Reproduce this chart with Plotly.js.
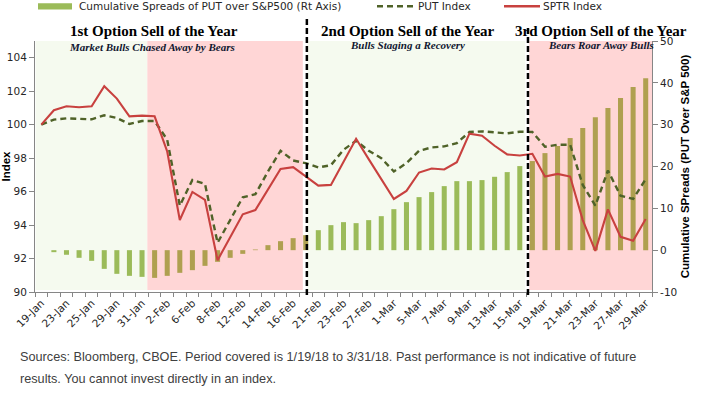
<!DOCTYPE html>
<html><head><meta charset="utf-8">
<script src="https://cdn.plot.ly/plotly-3.0.1.min.js"></script>
<style>html,body{margin:0;padding:0;background:#fff}#chart{width:702px;height:396px}</style>
</head><body><div id="chart"></div>
<script>
// ---------- DATA ----------
const dates = ["19-Jan","22-Jan","23-Jan","24-Jan","25-Jan","26-Jan","29-Jan","30-Jan","31-Jan",
  "1-Feb","2-Feb","5-Feb","6-Feb","7-Feb","8-Feb","9-Feb","12-Feb","13-Feb","14-Feb","15-Feb","16-Feb",
  "20-Feb","21-Feb","22-Feb","23-Feb","26-Feb","27-Feb","28-Feb",
  "1-Mar","2-Mar","5-Mar","6-Mar","7-Mar","8-Mar","9-Mar","12-Mar","13-Mar","14-Mar","15-Mar","16-Mar",
  "19-Mar","20-Mar","21-Mar","22-Mar","23-Mar","26-Mar","27-Mar","28-Mar","29-Mar"];
const tickDates = ["19-Jan","23-Jan","25-Jan","29-Jan","31-Jan","2-Feb","6-Feb","8-Feb","12-Feb","14-Feb",
  "16-Feb","21-Feb","23-Feb","27-Feb","1-Mar","5-Mar","7-Mar","9-Mar","13-Mar","15-Mar","19-Mar","21-Mar",
  "23-Mar","27-Mar","29-Mar"];
const sptrIndex = [100,100.86,101.1,101.04,101.1,102.3,101.56,100.5,100.54,
  100.5,98.4,94.3,95.98,95.5,91.9,93.26,94.64,94.9,96.1,97.35,97.46,
  96.9,96.36,96.4,97.76,99.16,97.94,96.74,
  95.56,96.04,97.14,97.38,97.32,97.76,99.46,99.34,98.74,98.22,98.16,98.26,
  96.9,97.06,96.9,94.3,92.46,94.94,93.3,93.06,94.36];
const putIndex = [100,100.3,100.38,100.34,100.32,100.56,100.4,100.04,100.22,
  100.22,99.1,95.16,96.7,96.46,92.94,94.3,95.66,95.84,97.2,98.44,97.86,
  97.7,97.44,97.58,98.5,99.04,98.44,98.0,
  97.2,97.7,98.44,98.64,98.7,98.9,99.56,99.6,99.54,99.48,99.58,99.56,
  98.68,98.8,98.8,96.4,95.16,97.26,95.76,95.56,96.74];
const cumSpreads = [0,-0.48,-1.1,-1.83,-2.55,-4.47,-5.66,-6.14,-6.38,
  -6.62,-6.14,-5.42,-4.78,-3.75,-2.79,-1.83,-0.88,0.16,1.2,2.15,2.87,
  3.59,4.78,5.98,6.7,6.46,7.18,8.13,
  9.8,11.48,12.68,13.88,15.31,16.5,16.5,16.75,17.54,18.66,20.1,21.3,
  23.2,24.9,26.8,29.2,31.8,34.0,36.4,39.0,41.1];
const leftTicks = [90,92,94,96,98,100,102,104];
const rightTickVals = [-10,0,10,20,30,40,50];
const rightTickText = ["-10","0","10","20","30","40","50"];
const periodTitles = ["1st Option Sell of the Year","2nd Option Sell of the Year","3rd Option Sell of the Year"];
const periodSubtitles = ["Market Bulls Chased Away by Bears","Bulls Staging a Recovery","Bears Roar Away Bulls"];
const legendNames = ["Cumulative Spreads of PUT over S&P500 (Rt Axis)","PUT Index","SPTR Index"];
const sourceLines = ["Sources: Bloomberg, CBOE. Period covered is 1/19/18 to 3/31/18. Past performance is not indicative of future",
  "results. You cannot invest directly in an index."];

// ---------- STYLE / LAYOUT ----------
const L=35, T=41, W=617, H=251;
const px = x => (x-L)/W;
const py = y => (T+H-y)/H;
const GREEN='#9BBB59', KHAKI='#AFA050';
const bearDays = i => (i>=9 && i<=21) || i>=39;
const barColors = cumSpreads.map((v,i)=> bearDays(i) ? KHAKI : GREEN);
const tickText = dates.map(d => tickDates.includes(d) ? d : '');

const traces = [
  {type:'bar', x:dates, y:cumSpreads, yaxis:'y', marker:{color:barColors}, width:0.4, showlegend:false, hoverinfo:'skip'},
  {type:'scatter', mode:'lines', x:dates, y:putIndex, yaxis:'y2', line:{color:'#4F6228', width:2.4, dash:'6px,4px'}, showlegend:false},
  {type:'scatter', mode:'lines', x:dates, y:sptrIndex, yaxis:'y2', line:{color:'#C8413F', width:2.1}, showlegend:false}
];

const tickFont = {family:'DejaVu Sans', size:10.5, color:'#262626'};
const axisTitleFont = {family:'Liberation Sans', size:11.5, color:'#000'};

const shapes = [
  {type:'rect', xref:'x', yref:'paper', x0:-0.45, x1:8.42, y0:0.008, y1:1, fillcolor:'#F5FAEF', line:{width:0}, layer:'below'},
  {type:'rect', xref:'x', yref:'paper', x0:8.42, x1:20.77, y0:0.008, y1:1, fillcolor:'#FFD6D6', line:{width:0}, layer:'below'},
  {type:'rect', xref:'x', yref:'paper', x0:21.14, x1:38.43, y0:0.008, y1:1, fillcolor:'#F5FAEF', line:{width:0}, layer:'below'},
  {type:'rect', xref:'x', yref:'paper', x0:38.75, x1:48.5, y0:0.008, y1:1, fillcolor:'#FFD6D6', line:{width:0}, layer:'below'},
  {type:'line', xref:'x', yref:'paper', x0:21.09, x1:21.09, y0:py(295), y1:py(18), line:{color:'#000', width:2.5, dash:'6px,3px'}},
  {type:'line', xref:'x', yref:'paper', x0:38.65, x1:38.65, y0:py(295), y1:py(25), line:{color:'#000', width:2.5, dash:'6px,3px'}},
  // legend symbols
  {type:'rect', xref:'paper', yref:'paper', x0:px(38), x1:px(72), y0:py(9.5), y1:py(3.3), fillcolor:GREEN, line:{width:0}},
  {type:'line', xref:'paper', yref:'paper', x0:px(377), x1:px(413), y0:py(6.3), y1:py(6.3), line:{color:'#4F6228', width:2.4, dash:'6px,4px'}},
  {type:'line', xref:'paper', yref:'paper', x0:px(504), x1:px(540), y0:py(6.3), y1:py(6.3), line:{color:'#C8413F', width:2.4}}
];

const titleX = [153.5, 408, 600.5];
const annotations = [];
periodTitles.forEach((t,i)=>annotations.push({xref:'paper', yref:'paper', x:px(titleX[i]), y:py(31), xanchor:'center', yanchor:'middle',
  text:'<b>'+t+'</b>', showarrow:false, borderpad:0, font:{family:'Liberation Serif', size:15, color:'#000'}}));
const subX = [151.5, 407, 600.5], subY=[47.5, 45, 45];
periodSubtitles.forEach((t,i)=>annotations.push({xref:'paper', yref:'paper', x:px(subX[i]), y:py(subY[i]), xanchor:'center', yanchor:'middle',
  text:'<b><i>'+t+'</i></b>', showarrow:false, borderpad:0, font:{family:'Liberation Serif', size:11, color:'#10162F'}}));
const legTextX = [77.5, 416.5, 541.5];
legendNames.forEach((t,i)=>annotations.push({xref:'paper', yref:'paper', x:px(legTextX[i]), y:py(6.5), xanchor:'left', yanchor:'middle',
  text:t, showarrow:false, borderpad:0, font:{family:'DejaVu Sans', size:10.5, color:'#262626'}}));
const srcY = [357, 379];
sourceLines.forEach((t,i)=>annotations.push({xref:'paper', yref:'paper', x:px(19), y:py(srcY[i]), xanchor:'left', yanchor:'middle',
  text:t, showarrow:false, borderpad:0, font:{family:'Liberation Sans', size:12.7, color:'#404040'}}));

const layout = {
  width:702, height:396,
  margin:{l:L, r:702-L-W, t:T, b:396-T-H, pad:0},
  paper_bgcolor:'#fff', plot_bgcolor:'#fff',
  showlegend:false,
  bargap:0.6,
  xaxis:{type:'category', range:[-0.5,48.5], tickmode:'array', tickvals:dates, ticktext:tickText,
    tickson:'boundaries', ticks:'outside', ticklen:4, tickcolor:'#868686', tickangle:-45,
    showline:true, linecolor:'#868686', linewidth:1, showgrid:false, zeroline:false, tickfont:tickFont, fixedrange:true},
  yaxis:{range:[-10,50], side:'right', tickmode:'array', tickvals:rightTickVals, ticktext:rightTickText,
    ticks:'outside', ticklen:5, tickcolor:'#868686', showline:true, linecolor:'#868686', linewidth:1,
    showgrid:false, zeroline:false, tickfont:tickFont,
    title:{text:'<b>Cumulative SPreads (PUT Over S&P 500)</b>', font:axisTitleFont, standoff:4}},
  yaxis2:{range:[90,105], side:'left', overlaying:'y', tickmode:'array', tickvals:leftTicks,
    ticks:'outside', ticklen:5, tickcolor:'#868686', showline:true, linecolor:'#868686', linewidth:1,
    showgrid:false, zeroline:false, tickfont:tickFont,
    title:{text:'<b>Index</b>', font:axisTitleFont, standoff:4}},
  shapes:shapes,
  annotations:annotations
};
Plotly.newPlot('chart', traces, layout, {displayModeBar:false, staticPlot:true});
</script></body></html>
